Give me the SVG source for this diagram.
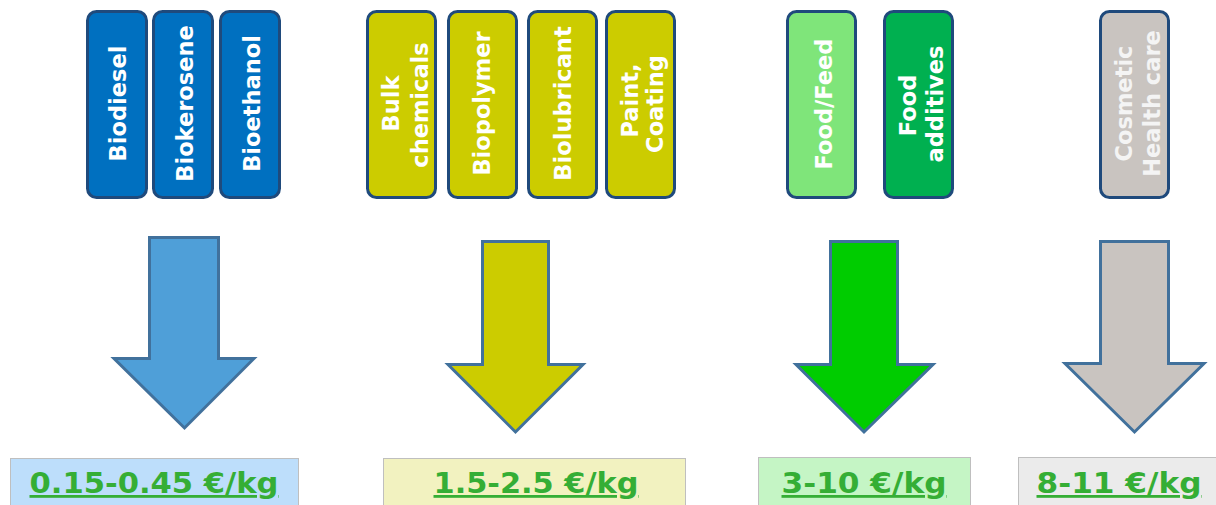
<svg xmlns="http://www.w3.org/2000/svg" width="1216" height="505" viewBox="0 0 1216 505">
<style>
.box{stroke:#1F4A7C;stroke-width:3}
.vt{font-family:"DejaVu Sans","Liberation Sans",sans-serif;font-weight:bold;font-size:22.5px;fill:#FFFFFF;text-anchor:middle}
.arr{stroke:#41719C;stroke-width:3;stroke-linejoin:miter}
.lab{stroke:#BFBFBF;stroke-width:1}
.lt{font-family:"DejaVu Sans","Liberation Sans",sans-serif;font-weight:bold;font-size:28px;fill:#35AE35;text-anchor:middle;text-decoration:underline}
</style>
<rect width="1216" height="505" fill="#FFFFFF"/>

<g id="biodiesel"><rect class="box" x="87.5" y="11.5" width="59" height="186" rx="9" fill="#0070C0"/><text class="vt" transform="translate(126,103.5) rotate(-90)">Biodiesel</text></g>
<g id="biokerosene"><rect class="box" x="153.5" y="11.5" width="59" height="186" rx="9" fill="#0070C0"/><text class="vt" transform="translate(192.5,103.5) rotate(-90)">Biokerosene</text></g>
<g id="bioethanol"><rect class="box" x="220.5" y="11.5" width="59" height="186" rx="9" fill="#0070C0"/><text class="vt" transform="translate(259.5,103.5) rotate(-90)">Bioethanol</text></g>

<g id="bulk-chemicals"><rect class="box" x="367.5" y="11.5" width="68" height="186" rx="9" fill="#CCCC00"/><text class="vt" transform="translate(398.5,103.5) rotate(-90)">Bulk</text><text class="vt" transform="translate(427.5,105) rotate(-90)">chemicals</text></g>
<g id="biopolymer"><rect class="box" x="448.5" y="11.5" width="68" height="186" rx="9" fill="#CCCC00"/><text class="vt" transform="translate(490,103.5) rotate(-90)">Biopolymer</text></g>
<g id="biolubricant"><rect class="box" x="528.5" y="11.5" width="68" height="186" rx="9" fill="#CCCC00"/><text class="vt" transform="translate(571,103.5) rotate(-90)">Biolubricant</text></g>
<g id="paint-coating"><rect class="box" x="606.5" y="11.5" width="68" height="186" rx="9" fill="#CCCC00"/><text class="vt" transform="translate(637.5,100.5) rotate(-90)">Paint,</text><text class="vt" transform="translate(662.5,104) rotate(-90)">Coating</text></g>

<g id="food-feed"><rect class="box" x="787.5" y="11.5" width="68" height="186" rx="9" fill="#7FE57A"/><text class="vt" transform="translate(832,104) rotate(-90)">Food/Feed</text></g>
<g id="food-additives"><rect class="box" x="884.5" y="11.5" width="68" height="186" rx="9" fill="#00B050"/><text class="vt" transform="translate(915.5,105.5) rotate(-90)">Food</text><text class="vt" transform="translate(942.5,104) rotate(-90)">additives</text></g>

<g id="cosmetic"><rect class="box" x="1100.5" y="11.5" width="68" height="186" rx="9" fill="#C9C4C0"/><text class="vt" style="fill:#F4F4F4" transform="translate(1131.5,103.5) rotate(-90)">Cosmetic</text><text class="vt" style="fill:#F4F4F4" transform="translate(1159.5,103.5) rotate(-90)">Health care</text></g>

<g id="arrows">
<polygon class="arr" fill="#4F9FD8" points="149.5,237.5 218.5,237.5 218.5,358.5 254,358.5 184.5,428 114,358.5 149.5,358.5"/>
<polygon class="arr" fill="#CCCC00" points="482.5,241.5 548.5,241.5 548.5,364.5 583,364.5 515.5,432 448,364.5 482.5,364.5"/>
<polygon class="arr" fill="#00CC00" points="830.5,241.5 897.5,241.5 897.5,364.5 933,364.5 864,432 796,364.5 830.5,364.5"/>
<polygon class="arr" fill="#C9C4C0" points="1100.5,241.5 1168.5,241.5 1168.5,363.5 1204,363.5 1134.5,432 1065,363.5 1100.5,363.5"/>
</g>

<g id="price-1"><rect class="lab" x="10.5" y="458.5" width="288" height="50" fill="#BDDEFB"/><text class="lt" x="154" y="493" textLength="249" lengthAdjust="spacingAndGlyphs">0.15-0.45 €/kg</text></g>
<g id="price-2"><rect class="lab" x="383.5" y="458.5" width="302" height="50" fill="#F2F2C0"/><text class="lt" x="536" y="493" textLength="205" lengthAdjust="spacingAndGlyphs">1.5-2.5 €/kg</text></g>
<g id="price-3"><rect class="lab" x="758.5" y="457.5" width="212" height="50" fill="#C5F5C5"/><text class="lt" x="864" y="493" textLength="165" lengthAdjust="spacingAndGlyphs">3-10 €/kg</text></g>
<g id="price-4"><rect class="lab" x="1018.5" y="457.5" width="210" height="50" fill="#EBEBEB"/><text class="lt" x="1119" y="493" textLength="165" lengthAdjust="spacingAndGlyphs">8-11 €/kg</text></g>
</svg>
